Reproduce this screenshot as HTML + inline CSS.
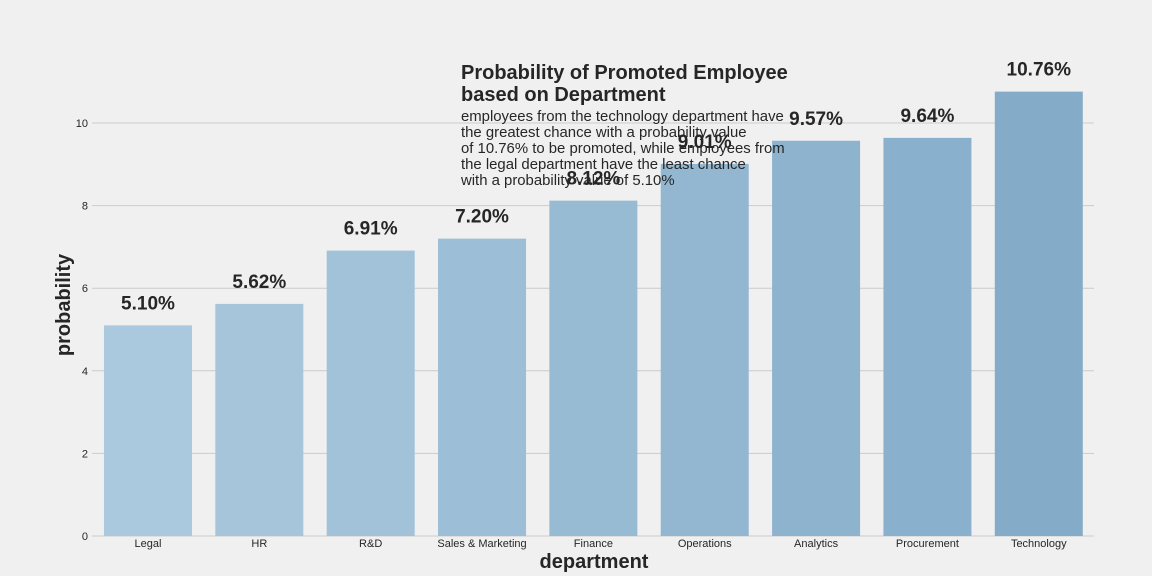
<!DOCTYPE html>
<html><head><meta charset="utf-8">
<style>
html,body{margin:0;padding:0;background:#f0f0f0;}
svg{display:block;font-family:"Liberation Sans",Arial,sans-serif;}
</style></head>
<body>
<svg id="chart" width="1152" height="576" viewBox="0 0 1152 576">
<rect width="1152" height="576" fill="#f0f0f0"/>
<g id="grid"></g>
<g id="bars"></g>
<g id="labels"></g>
<text x="461" y="79" font-size="20" font-weight="bold" fill="#262626">Probability of Promoted Employee</text>
<text x="461" y="101" font-size="20" font-weight="bold" fill="#262626">based on Department</text>
<g font-size="14.9" fill="#262626">
<text x="461" y="121">employees from the technology department have</text>
<text x="461" y="137">the greatest chance with a probability value</text>
<text x="461" y="153">of 10.76% to be promoted, while employees from</text>
<text x="461" y="169">the legal department have the least chance</text>
<text x="461" y="185">with a probability value of 5.10%</text>
</g>
<text x="594" y="568" text-anchor="middle" font-size="20" font-weight="bold" fill="#262626">department</text>
<text transform="translate(70,305) rotate(-90)" text-anchor="middle" font-size="20" font-weight="bold" fill="#262626">probability</text>
</svg>
<script>
const categories = ["Legal","HR","R&D","Sales & Marketing","Finance","Operations","Analytics","Procurement","Technology"];
const values = [5.10,5.62,6.91,7.20,8.12,9.01,9.57,9.64,10.76];
const yTicks = [0,2,4,6,8,10];
const NS="http://www.w3.org/2000/svg";
const x0=92.3, band=111.35, barW=88;
const yBase=536, yPer=41.3;
function xScale(i){return x0+band*i+band/2;}
function yScale(v){return yBase-v*yPer;}
function mk(tag,attrs,parent){const e=document.createElementNS(NS,tag);for(const k in attrs)e.setAttribute(k,attrs[k]);parent.appendChild(e);return e;}
const grid=document.getElementById('grid'),bars=document.getElementById('bars'),labels=document.getElementById('labels');
yTicks.forEach(t=>{
  const l=mk('line',{x1:92,x2:1094,y1:yScale(t),y2:yScale(t),stroke:'#cbcbcb','stroke-width':1},grid);
  
  
  const tx=mk('text',{x:88,y:yScale(t)+4,'text-anchor':'end','font-size':11,fill:'#262626'},grid);
  tx.textContent=t;
  
  
});
function col(i,n){const a=[171,201,222],b=[132,172,201];const f=n>1?i/(n-1):0;return 'rgb('+a.map((c,k)=>Math.round(c+(b[k]-c)*f)).join(',')+')';}
categories.forEach((c,i)=>{
  const cx=xScale(i),v=values[i];
  const r=mk('rect',{x:cx-barW/2,y:yScale(v),width:barW,height:yBase-yScale(v),fill:col(i,categories.length)},bars);
  
  
  const t=mk('text',{x:cx,y:yScale(v)-16,'text-anchor':'middle','font-size':19,'font-weight':'bold',fill:'#262626'},labels);
  t.textContent=v.toFixed(2)+'%';
  
  
  const xl=mk('text',{x:cx,y:547,'text-anchor':'middle','font-size':11,fill:'#262626'},labels);
  xl.textContent=c;
  
  
});
</script>
</body></html>
